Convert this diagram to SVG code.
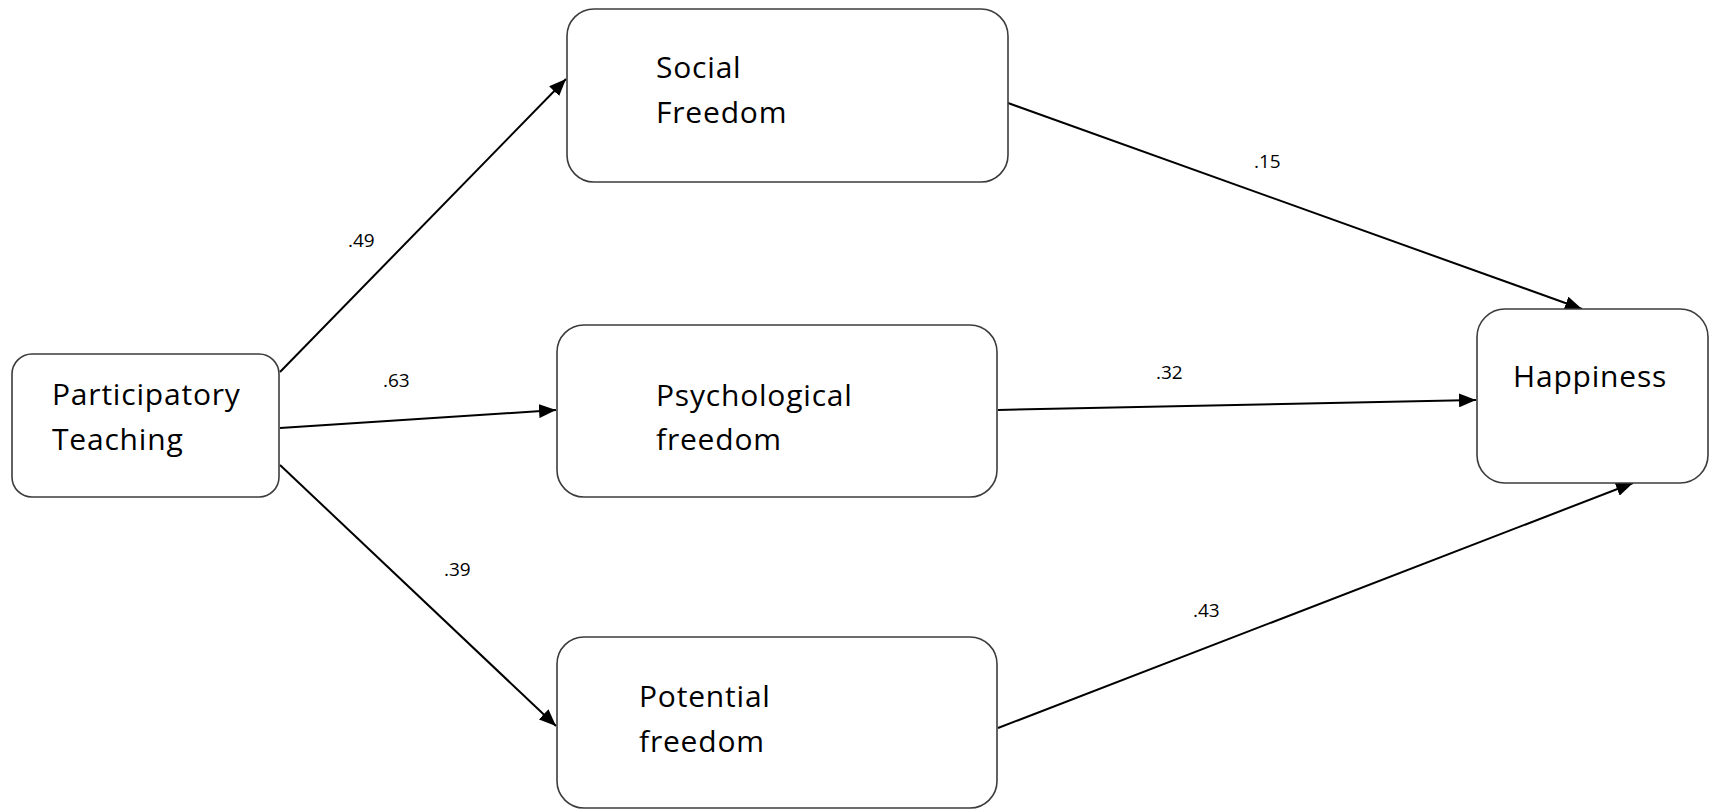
<svg xmlns="http://www.w3.org/2000/svg" width="1709" height="809" viewBox="0 0 1709 809">
<defs>
<style>
.box{fill:#fff;stroke:#3c3c3c;stroke-width:1.6}
.lbl{font-family:"Open Sans","Noto Sans",sans-serif;font-size:30px;fill:#000;letter-spacing:0.8px}
.num{font-family:"Open Sans","Noto Sans",sans-serif;font-size:19px;fill:#000}
.edge{stroke:#000;stroke-width:2;fill:none;marker-end:url(#arr)}
</style>
<marker id="arr" markerUnits="userSpaceOnUse" markerWidth="18" markerHeight="14" refX="17" refY="7" orient="auto">
<path d="M0,0 L17,7 L0,14 z" fill="#000"/>
</marker>
</defs>
<rect width="1709" height="809" fill="#fff"/>
<g id="connectors">
<line class="edge" x1="280" y1="372" x2="566" y2="79"/>
<line class="edge" x1="280" y1="428" x2="556" y2="410"/>
<line class="edge" x1="280" y1="465" x2="556" y2="726"/>
<line class="edge" x1="1008" y1="103" x2="1582" y2="309"/>
<line class="edge" x1="998" y1="410" x2="1476" y2="400"/>
<line class="edge" x1="998" y1="728" x2="1633" y2="483"/>
<text class="num" x="348" y="247">.49</text>
<text class="num" x="383" y="387">.63</text>
<text class="num" x="444" y="576">.39</text>
<text class="num" x="1254" y="168">.15</text>
<text class="num" x="1156" y="379">.32</text>
<text class="num" x="1193" y="617">.43</text>
</g>
<g id="participatory-teaching">
<rect class="box" x="12" y="354" width="267" height="143" rx="20"/>
<text class="lbl" x="52" y="405">Participatory</text>
<text class="lbl" x="52" y="450">Teaching</text>
</g>
<g id="social-freedom">
<rect class="box" x="567" y="9" width="441" height="173" rx="27"/>
<text class="lbl" x="656" y="78">Social</text>
<text class="lbl" x="656" y="123">Freedom</text>
</g>
<g id="psychological-freedom">
<rect class="box" x="557" y="325" width="440" height="172" rx="27"/>
<text class="lbl" x="656" y="406">Psychological</text>
<text class="lbl" x="656" y="450">freedom</text>
</g>
<g id="potential-freedom">
<rect class="box" x="557" y="637" width="440" height="171" rx="27"/>
<text class="lbl" x="639" y="707">Potential</text>
<text class="lbl" x="639" y="752">freedom</text>
</g>
<g id="happiness">
<rect class="box" x="1477" y="309" width="231" height="174" rx="28"/>
<text class="lbl" x="1513" y="387">Happiness</text>
</g>
</svg>
